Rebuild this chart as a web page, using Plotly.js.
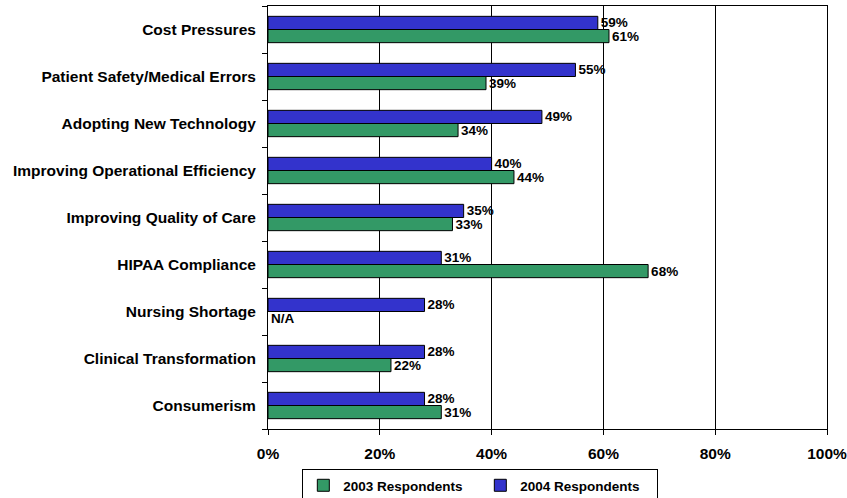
<!DOCTYPE html>
<html><head><meta charset="utf-8">
<script src="https://cdn.plot.ly/plotly-3.0.1.min.js"></script>
<style>body{margin:0;background:#fff}#c{width:847px;height:498px}</style>
</head><body><div id="c"></div>
<script>
const categories = ["Cost Pressures","Patient Safety/Medical Errors","Adopting New Technology","Improving Operational Efficiency","Improving Quality of Care","HIPAA Compliance","Nursing Shortage","Clinical Transformation","Consumerism"];
const resp2004 = [59,55,49,40,35,31,28,28,28];
const resp2003 = [61,39,34,44,33,68,null,22,31];
const xTickVals = [0,20,40,60,80,100];
const xTickText = ["0%","20%","40%","60%","80%","100%"];

const fam = "Liberation Sans, Arial, sans-serif";
const axisFont = {family:fam, size:15.5, color:"#000", weight:"bold"};
const smallFont = {family:fam, size:13.5, color:"#000", weight:"bold"};
const catsRev = categories.slice().reverse();
const g = resp2003.map(v => v === null ? 0 : v);
const gText = resp2003.map(v => v === null ? "N/A" : v + "%");
const gLine = resp2003.map(v => v === null ? 0 : 1);

const traces = [
  {type:"bar", orientation:"h", name:"2003 Respondents", y:categories, x:g,
   text:gText, textposition:"outside", cliponaxis:false, constraintext:"none",
   textfont:smallFont, marker:{color:"#339966", line:{color:"#000", width:gLine}}},
  {type:"bar", orientation:"h", name:"2004 Respondents", y:categories, x:resp2004,
   text:resp2004.map(v=>v+"%"), textposition:"outside", cliponaxis:false, constraintext:"none",
   textfont:smallFont, marker:{color:"#3333CC", line:{color:"#000", width:1}}}
];
const layout = {
  width:847, height:498,
  margin:{l:268, r:20, t:6, b:69, autoexpand:false},
  paper_bgcolor:"#fff", plot_bgcolor:"#fff",
  font:smallFont,
  barmode:"group", bargap:0.44, bargroupgap:0,
  showlegend:true,
  legend:{orientation:"h", x:0.0614, xanchor:"left", y:-0.0946, yanchor:"top",
    bordercolor:"#000", borderwidth:1, font:smallFont, entrywidth:132, traceorder:"normal"},
  xaxis:{range:[0,100], tickvals:xTickVals, ticktext:xTickText, showgrid:true,
    gridcolor:"#000", gridwidth:1, showline:true, linecolor:"#000", linewidth:1, mirror:true,
    ticks:"outside", ticklen:5, tickcolor:"#000", ticklabelstandoff:5, ticklabeloverflow:"allow",
    zeroline:false, tickfont:axisFont},
  yaxis:{type:"category", categoryorder:"array", categoryarray:catsRev,
    tickson:"boundaries", ticks:"outside", ticklen:5, tickcolor:"#000",
    showline:true, linecolor:"#000", linewidth:1, mirror:true, showgrid:false,
    ticklabelstandoff:8, tickfont:axisFont}
};
Plotly.newPlot("c", traces, layout, {displayModeBar:false, staticPlot:true});
</script></body></html>
